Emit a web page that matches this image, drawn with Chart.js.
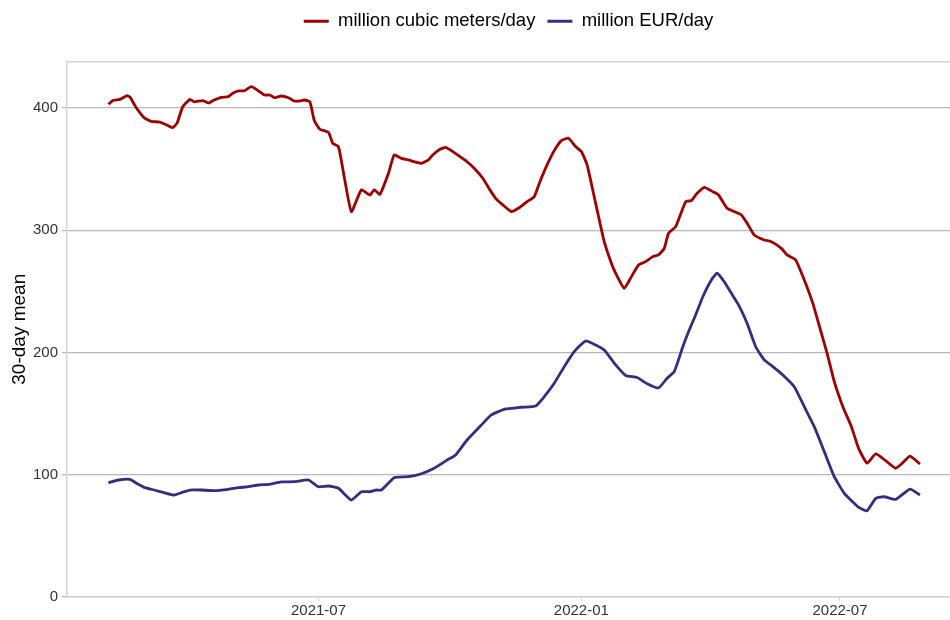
<!DOCTYPE html>
<html>
<head>
<meta charset="utf-8">
<script src="https://cdn.jsdelivr.net/npm/chart.js@4.4.0/dist/chart.umd.min.js"></script>
<style>
  body { margin: 0; background: #fff; }
  #wrap { width: 950px; height: 620px; }
</style>
</head>
<body>
<div id="wrap"><canvas id="myChart" width="950" height="620"></canvas></div>
<script>
// million cubic meters/day, 30-day mean
const volDates = ['2021-02-04','2021-02-07','2021-02-12','2021-02-17','2021-02-19','2021-02-23','2021-03-01','2021-03-06','2021-03-12','2021-03-17',
  '2021-03-21','2021-03-24','2021-03-28','2021-04-02','2021-04-05','2021-04-11','2021-04-15','2021-04-19','2021-04-24','2021-04-29',
  '2021-05-02','2021-05-06','2021-05-10','2021-05-15','2021-05-20','2021-05-24','2021-05-28','2021-05-31','2021-06-05','2021-06-10',
  '2021-06-14','2021-06-18','2021-06-21','2021-06-25','2021-06-28','2021-07-02','2021-07-08','2021-07-11','2021-07-15','2021-07-19',
  '2021-07-24','2021-07-31','2021-08-06','2021-08-09','2021-08-13','2021-08-19','2021-08-23','2021-08-28','2021-09-02','2021-09-06',
  '2021-09-11','2021-09-16','2021-09-19','2021-09-24','2021-09-28','2021-10-03','2021-10-08','2021-10-13','2021-10-18','2021-10-24',
  '2021-10-29','2021-11-02','2021-11-07','2021-11-13','2021-11-19','2021-11-24','2021-11-29','2021-12-03','2021-12-08','2021-12-13',
  '2021-12-18','2021-12-23','2021-12-28','2022-01-01','2022-01-05','2022-01-11','2022-01-17','2022-01-22','2022-01-25','2022-01-31',
  '2022-02-05','2022-02-10','2022-02-15','2022-02-20','2022-02-24','2022-02-28','2022-03-03','2022-03-08','2022-03-15','2022-03-19',
  '2022-03-23','2022-03-28','2022-04-03','2022-04-07','2022-04-13','2022-04-18','2022-04-23','2022-04-27','2022-05-02','2022-05-09',
  '2022-05-14','2022-05-21','2022-05-25','2022-05-31','2022-06-06','2022-06-12','2022-06-16','2022-06-22','2022-06-27','2022-07-03',
  '2022-07-09','2022-07-14','2022-07-20','2022-07-26','2022-08-02','2022-08-09','2022-08-14','2022-08-19','2022-08-26'];
const volValues = [403,406,407,410,409,401,392,389,388.5,386,
  384,387.5,401,407,405,406,404,406.5,408.7,409.3,
  412,414,414,417.4,414,410.6,410.6,408.4,409.8,408.4,
  405.7,405.7,406.5,405,390,382.6,380,371,368.3,343.8,
  315.2,333,328.8,333,329.4,346.6,361.6,358.8,357.5,356,
  354.7,357.5,361.6,366.2,367.8,364.3,360.2,356,350.7,342.5,
  333,326.1,320.7,315.2,318.8,323.4,327.4,339.7,353.4,365.1,
  373.3,375.2,368.4,364.3,353.4,322,290.6,273,264.8,252.5,
  262,271.6,274.3,278.4,279.8,285.2,297.5,302.9,323.4,324.2,
  330.2,335.1,331.5,328.8,318,315.2,312.5,305.7,296.1,292,
  290.6,285.2,279.8,275.7,259.3,240.2,223.9,199.3,176.1,155.7,
  139.3,121.6,109.4,117,111.5,105.3,109.9,115.3,108.8];

// million EUR/day, 30-day mean
const eurDates = ['2021-02-04','2021-02-11','2021-02-19','2021-02-23','2021-03-01','2021-03-08','2021-03-15','2021-03-22','2021-03-27','2021-04-02',
  '2021-04-10','2021-04-19','2021-04-29','2021-05-06','2021-05-13','2021-05-20','2021-05-27','2021-06-05','2021-06-14','2021-06-24',
  '2021-07-01','2021-07-08','2021-07-15','2021-07-24','2021-07-31','2021-08-06','2021-08-10','2021-08-14','2021-08-23','2021-09-02',
  '2021-09-10','2021-09-20','2021-09-29','2021-10-05','2021-10-13','2021-10-23','2021-10-30','2021-11-08','2021-11-20','2021-11-30',
  '2021-12-06','2021-12-13','2021-12-20','2021-12-27','2022-01-04','2022-01-11','2022-01-17','2022-01-25','2022-02-01','2022-02-09',
  '2022-02-16','2022-02-24','2022-03-02','2022-03-07','2022-03-13','2022-03-17','2022-03-22','2022-03-27','2022-04-02','2022-04-06',
  '2022-04-11','2022-04-16','2022-04-21','2022-04-27','2022-05-03','2022-05-09','2022-05-15','2022-05-22','2022-05-30','2022-06-06',
  '2022-06-13','2022-06-20','2022-06-27','2022-07-04','2022-07-11','2022-07-14','2022-07-20','2022-07-26','2022-08-01','2022-08-09',
  '2022-08-19','2022-08-26'];
const eurValues = [93.5,95.7,96.3,93.5,89.7,87.5,85.3,83.4,85.3,87.5,
  87.5,87,88.1,89.4,90.2,91.6,92.2,94.1,94.3,95.7,
  90.2,90.8,88.9,79.3,86.1,86.1,87.5,87.5,97.6,98.4,
  100.4,105.3,112,116.2,128.4,140.7,148.9,153.5,155.2,156.2,
  163.8,174.8,188.4,200.7,209.4,206.1,202,189.8,181.2,179.5,
  174.5,171,178.9,184.3,204.7,217,230.7,245.6,259.3,264.8,
  257.9,248.4,238.9,223.9,204.7,193.9,188.4,181.6,172,155.7,
  139.3,118.9,98.4,84.8,76.6,73.4,70.6,80.7,82,79.9,
  88.3,83.4];

const tickDates = ['2021-07-01','2022-01-01','2022-07-01'];
const tickLabels = ['2021-07','2022-01','2022-07'];
const yTicks = [0,100,200,300,400];

// days since 2021-01-01
const day = s => (Date.parse(s) - Date.parse('2021-01-01')) / 86400000;
const xMin = day('2021-01-06');
const xMax = day('2022-09-16');

const gridColor = '#b8b8b8';
const axisColor = '#d4d4d4';
const font = 'Liberation Sans, Arial, sans-serif';

const data = {
  datasets: [{
    label: 'million cubic meters/day',
    data: volDates.map((d, i) => ({x: day(d), y: volValues[i]})),
    borderColor: '#a00000',
    backgroundColor: '#a00000',
    borderWidth: 2.8,
    pointRadius: 0,
    tension: 0.15
  }, {
    label: 'million EUR/day',
    data: eurDates.map((d, i) => ({x: day(d), y: eurValues[i]})),
    borderColor: '#3a2a82',
    backgroundColor: '#3a2a82',
    borderWidth: 2.8,
    pointRadius: 0,
    tension: 0.15
  }]
};

const config = {
  type: 'line',
  data: data,
  options: {
    responsive: false,
    animation: false,
    devicePixelRatio: 1,
    layout: { padding: 0 },
    plugins: {
      tooltip: { enabled: false },
      legend: {
        position: 'top',
        fullSize: false,
        labels: {
          usePointStyle: true,
          pointStyle: 'line',
          pointStyleWidth: 25,
          padding: 12,
          color: '#000',
          font: { family: font, size: 18.5 }
        }
      }
    },
    scales: {
      x: {
        type: 'linear',
        min: xMin,
        max: xMax,
        afterBuildTicks: s => { s.ticks = tickDates.map(d => ({value: day(d)})); },
        afterFit: s => { s.height = 23; },
        ticks: {
          autoSkip: false,
          maxRotation: 0,
          padding: 1,
          color: '#333',
          font: { family: font, size: 15 },
          callback: v => tickLabels[tickDates.findIndex(d => day(d) === v)]
        },
        grid: { drawOnChartArea: false, drawTicks: true, tickLength: 4, color: axisColor },
        border: { color: axisColor, width: 1.5 }
      },
      x2: {
        type: 'linear',
        position: 'top',
        min: xMin,
        max: xMax,
        afterFit: s => { s.height = 21; },
        ticks: { display: false },
        grid: { display: false },
        border: { color: axisColor, width: 1.5 }
      },
      y: {
        min: 0,
        max: 438,
        afterBuildTicks: s => { s.ticks = yTicks.map(v => ({value: v})); },
        afterFit: s => { s.width = 67; },
        ticks: {
          padding: 4,
          color: '#333',
          font: { family: font, size: 15 }
        },
        grid: { color: gridColor, lineWidth: 1.2, tickLength: 5 },
        border: { color: axisColor, width: 1.5 },
        title: {
          display: true,
          text: '30-day mean',
          color: '#000',
          font: { family: font, size: 19 },
          padding: { top: 8, bottom: 0 }
        }
      }
    }
  }
};

const myChart = new Chart(document.getElementById('myChart'), config);
</script>
</body>
</html>
